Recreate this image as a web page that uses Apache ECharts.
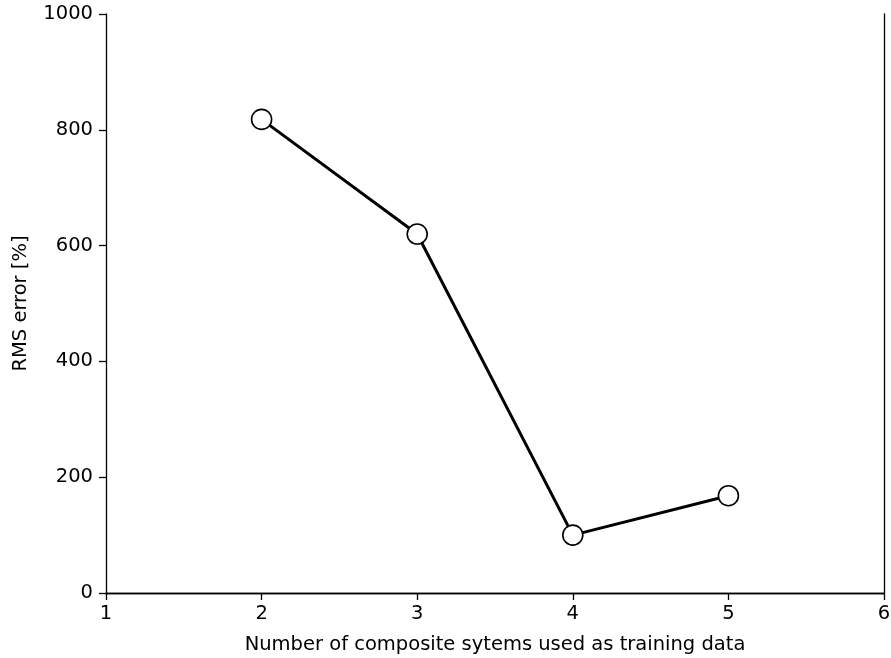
<!DOCTYPE html>
<html>
<head>
<meta charset="utf-8">
<script src="https://cdn.jsdelivr.net/npm/echarts@6/dist/echarts.min.js"></script>
<style>
  html, body { margin: 0; padding: 0; background: #fff; }
  #chart { width: 891px; height: 658px; }
</style>
</head>
<body>
<div id="chart"></div>
<script>
// Number of composite systems used for training vs. RMS error
const systemsCount = [2, 3, 4, 5];
const rmsError = [818, 620, 100, 168];
const xTicks = [1, 2, 3, 4, 5, 6];
const yTicks = [0, 200, 400, 600, 800, 1000];

const chart = echarts.init(document.getElementById('chart'), null, { renderer: 'canvas' });
const font = 'DejaVu Sans';
const fontSize = 19.5;
const axisLineStyle = { color: '#000', width: 1.3 };

chart.setOption({
  animation: false,
  backgroundColor: '#fff',
  grid: { left: 106, right: 7, top: 14, bottom: 65, show: false,
          outerBoundsMode: 'none', containLabel: false },
  xAxis: [{
    type: 'value',
    min: xTicks[0], max: xTicks[xTicks.length - 1], interval: 1,
    name: 'Number of composite sytems used as training data',
    nameLocation: 'middle', nameGap: 42,
    nameTextStyle: { fontFamily: font, fontSize: fontSize, color: '#000' },
    axisLine: { show: true, onZero: false, lineStyle: axisLineStyle },
    axisTick: { show: true, length: 7, lineStyle: axisLineStyle },
    axisLabel: { fontFamily: font, fontSize: fontSize, color: '#000', margin: 11 },
    splitLine: { show: false }
  }, {
    type: 'value', position: 'top',
    min: xTicks[0], max: xTicks[xTicks.length - 1],
    axisLine: { show: true, lineStyle: axisLineStyle },
    axisTick: { show: false }, axisLabel: { show: false }, splitLine: { show: false }
  }],
  yAxis: [{
    type: 'value',
    min: yTicks[0], max: yTicks[yTicks.length - 1], interval: 200,
    name: 'RMS error [%]',
    nameLocation: 'middle', nameGap: 75, nameRotate: 90,
    nameTextStyle: { fontFamily: font, fontSize: fontSize, color: '#000' },
    axisLine: { show: true, onZero: false, lineStyle: axisLineStyle },
    axisTick: { show: true, length: 7, lineStyle: axisLineStyle },
    axisLabel: { fontFamily: font, fontSize: fontSize, color: '#000', margin: 13,
                 formatter: v => String(v) },
    splitLine: { show: false }
  }, {
    type: 'value', position: 'right',
    min: yTicks[0], max: yTicks[yTicks.length - 1],
    axisLine: { show: true, lineStyle: axisLineStyle },
    axisTick: { show: false }, axisLabel: { show: false }, splitLine: { show: false }
  }],
  series: [{
    type: 'line',
    data: systemsCount.map((x, i) => [x, rmsError[i]]),
    lineStyle: { color: '#000', width: 3 },
    symbol: 'circle',
    symbolSize: 20,
    itemStyle: { color: '#fff', borderColor: '#000', borderWidth: 1.6 },
    z: 3
  }]
});
</script>
</body>
</html>
